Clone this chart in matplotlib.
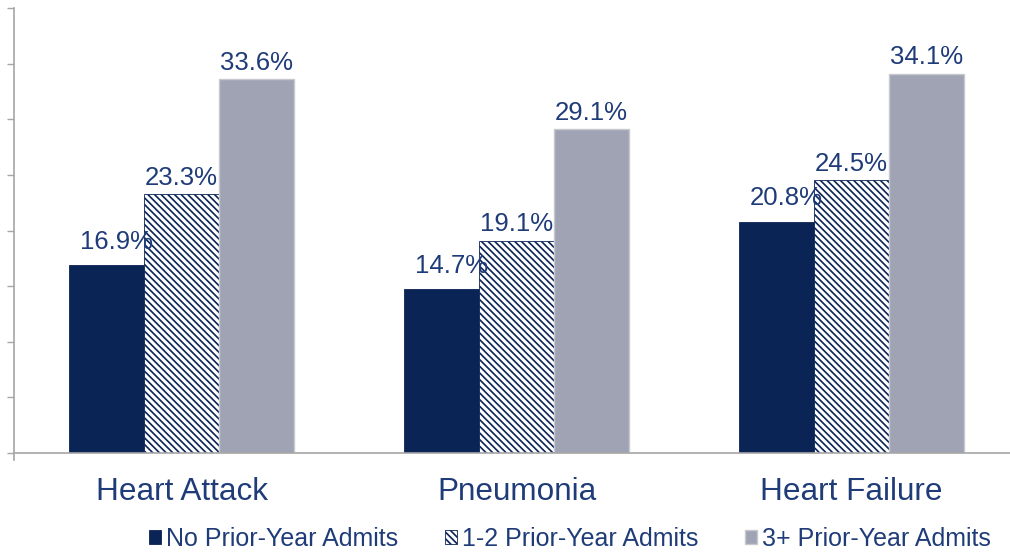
import matplotlib
matplotlib.use('Agg')
import matplotlib.pyplot as plt
import numpy as np

# Chart data
conditions = ['Heart Attack', 'Pneumonia', 'Heart Failure']
series_names = ['No Prior-Year Admits', '1-2 Prior-Year Admits', '3+ Prior-Year Admits']
no_prior = [16.9, 14.7, 20.8]
one_two_prior = [23.3, 19.1, 24.5]
three_plus_prior = [33.6, 29.1, 34.1]

plt.rcParams['font.family'] = ['Liberation Sans', 'DejaVu Sans']
plt.rcParams['hatch.linewidth'] = 1.2

navy = '#0b2456'
gray = '#a0a3b3'
text_color = '#1f3c78'
axis_color = '#a6a6a6'

fig = plt.figure(figsize=(10.1, 5.52), dpi=100)
ax = fig.add_axes([14 / 1010, 1 - 453 / 552, 996 / 1010, 445 / 552])

x = np.arange(len(conditions))
width = 0.224

bars_a = ax.bar(x - width, no_prior, width, color=navy, edgecolor=navy,
                linewidth=0.6, label=series_names[0])
bars_b = ax.bar(x, one_two_prior, width, color='white', edgecolor=navy,
                hatch='\\' * 5, linewidth=0.6, label=series_names[1])
bars_c = ax.bar(x + width, three_plus_prior, width, color=gray, edgecolor='#c8c9d0',
                linewidth=1.0, label=series_names[2])

# value labels above each bar
for bars, vals, offset in [(bars_a, no_prior, (7, 8)),
                           (bars_b, one_two_prior, (0, 3)),
                           (bars_c, three_plus_prior, (0, 3))]:
    for b, v in zip(bars, vals):
        ax.annotate(f'{v:.1f}%', xy=(b.get_x() + b.get_width() / 2, b.get_height()),
                    xytext=offset, textcoords='offset points', ha='center', va='bottom',
                    fontsize=18.5, color=text_color)

ax.set_xlim(-0.5, 2.473)
ax.set_ylim(0, 40)
ax.set_yticks(np.arange(0, 41, 5))
ax.set_yticklabels([])
ax.tick_params(axis='y', direction='out', length=5, color=axis_color, width=1)
ax.set_xticks(x)
ax.set_xticklabels(conditions, fontsize=22.7, color=text_color)
ax.tick_params(axis='x', length=0, pad=17)

for side in ['top', 'right']:
    ax.spines[side].set_visible(False)
ax.spines['left'].set_color(axis_color)
ax.spines['bottom'].set_color(axis_color)
ax.spines['left'].set_linewidth(1.2)
ax.spines['bottom'].set_linewidth(1.2)
ax.spines['left'].set_bounds(-0.6, 40)

leg = fig.legend(loc='center', bbox_to_anchor=(570 / 1010, 1 - 539 / 552), ncol=3,
                 frameon=False, fontsize=18, handlelength=0.5, handleheight=0.5,
                 handletextpad=0.2, columnspacing=1.85, borderaxespad=0)
for t in leg.get_texts():
    t.set_color(text_color)

fig.savefig('out.png', dpi=100)
